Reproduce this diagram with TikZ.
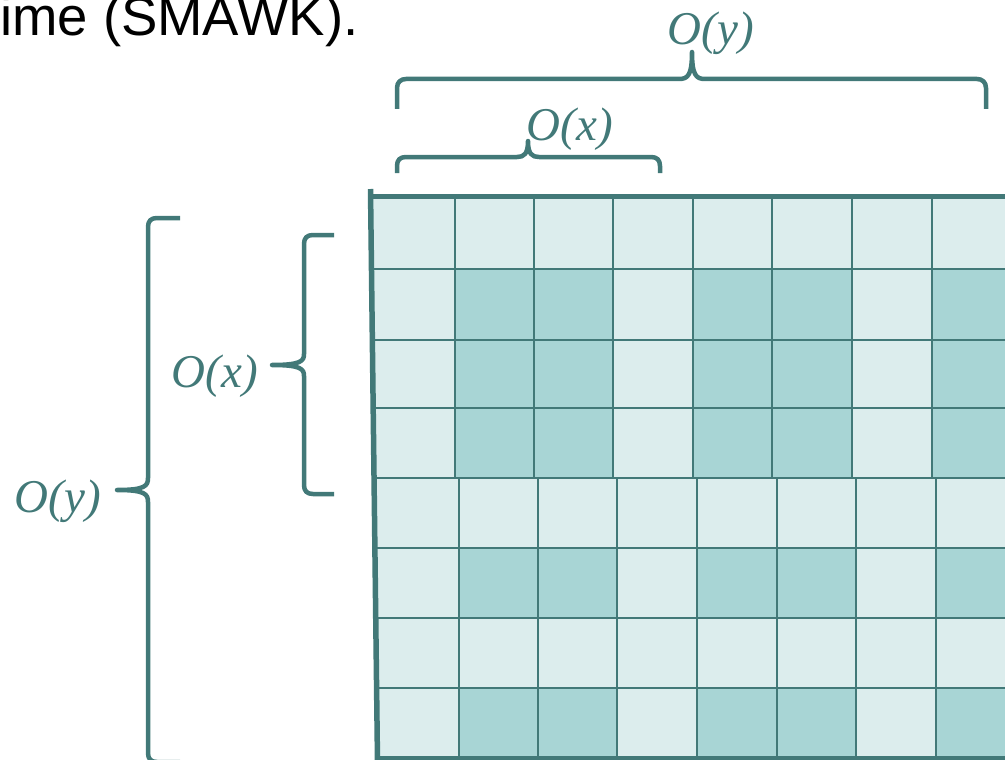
\documentclass[tikz,border=0pt]{standalone}
\usepackage{fontspec}
\setmainfont{Liberation Serif}
\newfontfamily\headfont{Liberation Sans}
\definecolor{tealline}{RGB}{66,121,120}
\definecolor{celllight}{RGB}{220,237,237}
\definecolor{celldark}{RGB}{168,213,213}
\begin{document}
\begin{tikzpicture}[x=1pt,y=-1pt,
  gridrule/.style={draw=tealline,line width=2.6pt},
  frame/.style={draw=tealline,line cap=butt},
  brace/.style={draw=tealline,line width=4.5pt,line join=round,line cap=butt},
  label/.style={text=tealline,inner sep=0pt,font=\fontsize{47}{50}\selectfont\itshape}]
\useasboundingbox (0,0) rectangle (1005,760);
\clip (0,0) rectangle (1005,760);

% heading fragment
\node[anchor=base west,inner sep=0pt,font=\headfont\fontsize{54.5}{60}\selectfont] (head) at (0,36) {ime (SMAWK).};

% matrix cells: light base, then the darker cells
\fill[celllight] (370,194) -- (1005,194) -- (1005,758) -- (377,758) -- cycle;
\foreach \ya/\yb in {269/340,340/408,408/478}
  \foreach \xa/\xb in {455/534,534/613,693/772,772/852,932/1012}
    \fill[celldark] (\xa,\ya) rectangle (\xb,\yb);
\foreach \ya/\yb in {548/618,688/758}
  \foreach \xa/\xb in {459/538,538/617,697/777,777/856,936/1016}
    \fill[celldark] (\xa,\ya) rectangle (\xb,\yb);

% grid rules (the lower half is shifted slightly to the right)
\foreach \x in {455,534,613,693,772,852,932}
  \draw[gridrule] (\x,196) -- (\x,478);
\foreach \x in {459,538,617,697,777,856,936}
  \draw[gridrule] (\x,478) -- (\x,758);
\foreach \y in {269,340,408,478,548,618,688}
  \draw[gridrule] ({370.5+(\y-190)*0.0114},\y) -- (1005,\y);

% outer frame
\draw[frame,line width=5pt] (368,196) -- (1005,196);
\draw[frame,line width=4pt] (375,758) -- (1005,758);
\draw[frame,line width=5.5pt] (370.5,189) -- (377.5,762);

% top braces
\draw[brace] (397,109) -- (397,88) .. controls (397,82) and (401,79) .. (406,79)
  -- (679,79) .. controls (688,79) and (692,75) .. (692,52)
  .. controls (692,75) and (696,79) .. (705,79)
  -- (977,79) .. controls (982,79) and (986,82) .. (986,88) -- (986,109);
\draw[brace] (397,173) -- (397,166) .. controls (397,160) and (400,157) .. (406,157)
  -- (517,157) .. controls (524,157) and (528,154) .. (528,141)
  .. controls (528,154) and (532,157) .. (539,157)
  -- (651,157) .. controls (657,157) and (660,160) .. (660,166) -- (660,173);

% left braces
\draw[brace] (180,218) -- (157,218) .. controls (151,218) and (148,221) .. (148,227)
  -- (148,478) .. controls (148,486) and (145,490) .. (117,490)
  .. controls (145,490) and (148,494) .. (148,502)
  -- (148,753) .. controls (148,759) and (151,762) .. (157,762) -- (180,762);
\draw[brace] (334,235) -- (313,235) .. controls (307,235) and (304,238) .. (304,244)
  -- (304,354) .. controls (304,361) and (301,365) .. (272,365)
  .. controls (301,365) and (304,369) .. (304,376)
  -- (304,485) .. controls (304,491) and (307,494) .. (313,494) -- (334,494);

% brace labels
\node[label,anchor=base] (ly) at (711,45) {O(y)};
\node[label,anchor=base] (lx) at (570,140) {O(x)};
\node[label,anchor=base east] (vx) at (258,387) {O(x)};
\node[label,anchor=base east] (vy) at (101,512) {O(y)};
\end{tikzpicture}
\end{document}
